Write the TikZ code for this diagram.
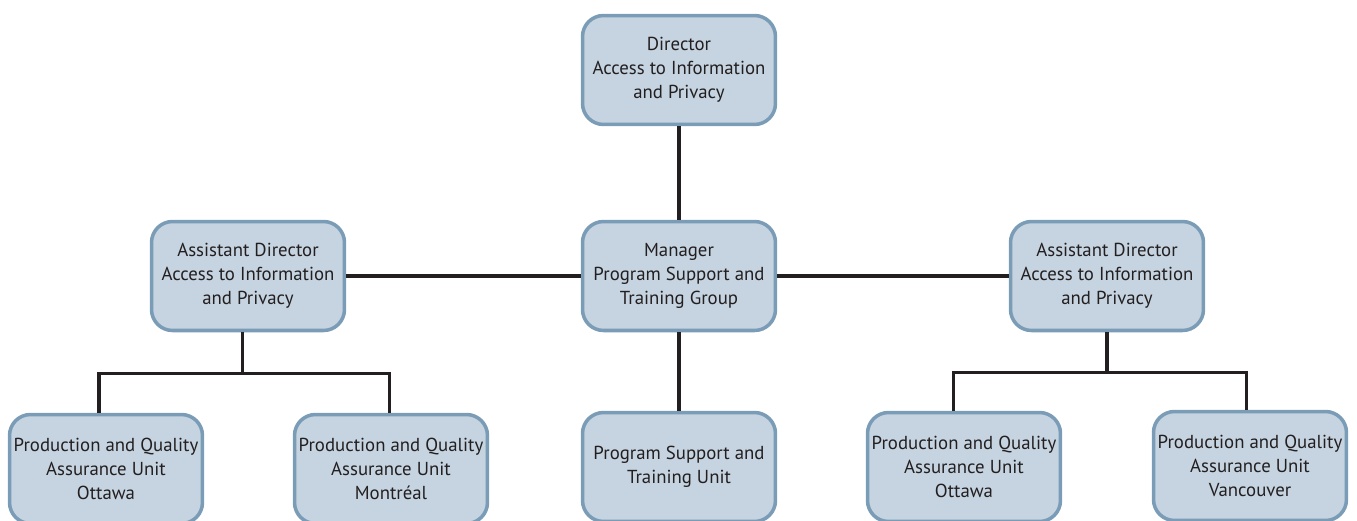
\documentclass[tikz,border=0pt]{standalone}
\usepackage{fontspec}
\setmainfont{PT Sans}
\usetikzlibrary{positioning}
\definecolor{boxfill}{HTML}{C5D4E0}
\definecolor{boxline}{HTML}{7A9CB6}
\definecolor{ink}{HTML}{231F20}
\tikzset{   unit/.style = {rectangle, rounded corners = 0.42cm, draw = boxline, line width = 2pt, fill = boxfill, text = ink, align = center, minimum width = 3.86cm, minimum height = 2.18cm, inner sep = 0pt, font = \fontsize{10.7}{13.7}\selectfont},
            link/.style = {draw = ink, line width = 1.8pt}}
\begin{document}
\begin{tikzpicture}[x=0.02cm, y=-0.02cm]
                        \clip (0,0) rectangle (1357,521);
                        % top of the chart
                        \node[unit] (dir) at (679,70) {Director\\Access to Information\\and Privacy};
                        \node[unit] (mgr) at (679,276) {Manager\\Program Support and\\Training Group};
                        \node[unit] (adL) at (248,276) {Assistant Director\\Access to Information\\and Privacy};
                        \node[unit] (adR) at (1107,276) {Assistant Director\\Access to Information\\and Privacy};
                        % units along the bottom
                        \node[unit] (ottL) at (106,469) {Production and Quality\\Assurance Unit\\Ottawa};
                        \node[unit] (mtl) at (391,469) {Production and Quality\\Assurance Unit\\Montréal};
                        \node[unit] (pstu) at (679,467) {Program Support and\\Training Unit};
                        \node[unit] (ottR) at (964,467) {Production and Quality\\Assurance Unit\\Ottawa};
                        \node[unit] (van) at (1250,466) {Production and Quality\\Assurance Unit\\Vancouver};
                        % connectors
                        \draw[link] (dir) -- (mgr);
                        \draw[link] (adL) -- (mgr);
                        \draw[link] (mgr) -- (adR);
                        \draw[link] (mgr) -- (pstu);
                        \draw[link] ([xshift=-3]adL.south) -- ++(0,41) -| ([xshift=-4]ottL.north);
                        \draw[link] ([xshift=-3]adL.south) -- ++(0,41) -| ([xshift=-1]mtl.north);
                        \draw[link] (adR.south) -- ++(0,40) -| ([xshift=-6]ottR.north);
                        \draw[link] (adR.south) -- ++(0,40) -| ([xshift=-2]van.north);
\end{tikzpicture}
\end{document}
